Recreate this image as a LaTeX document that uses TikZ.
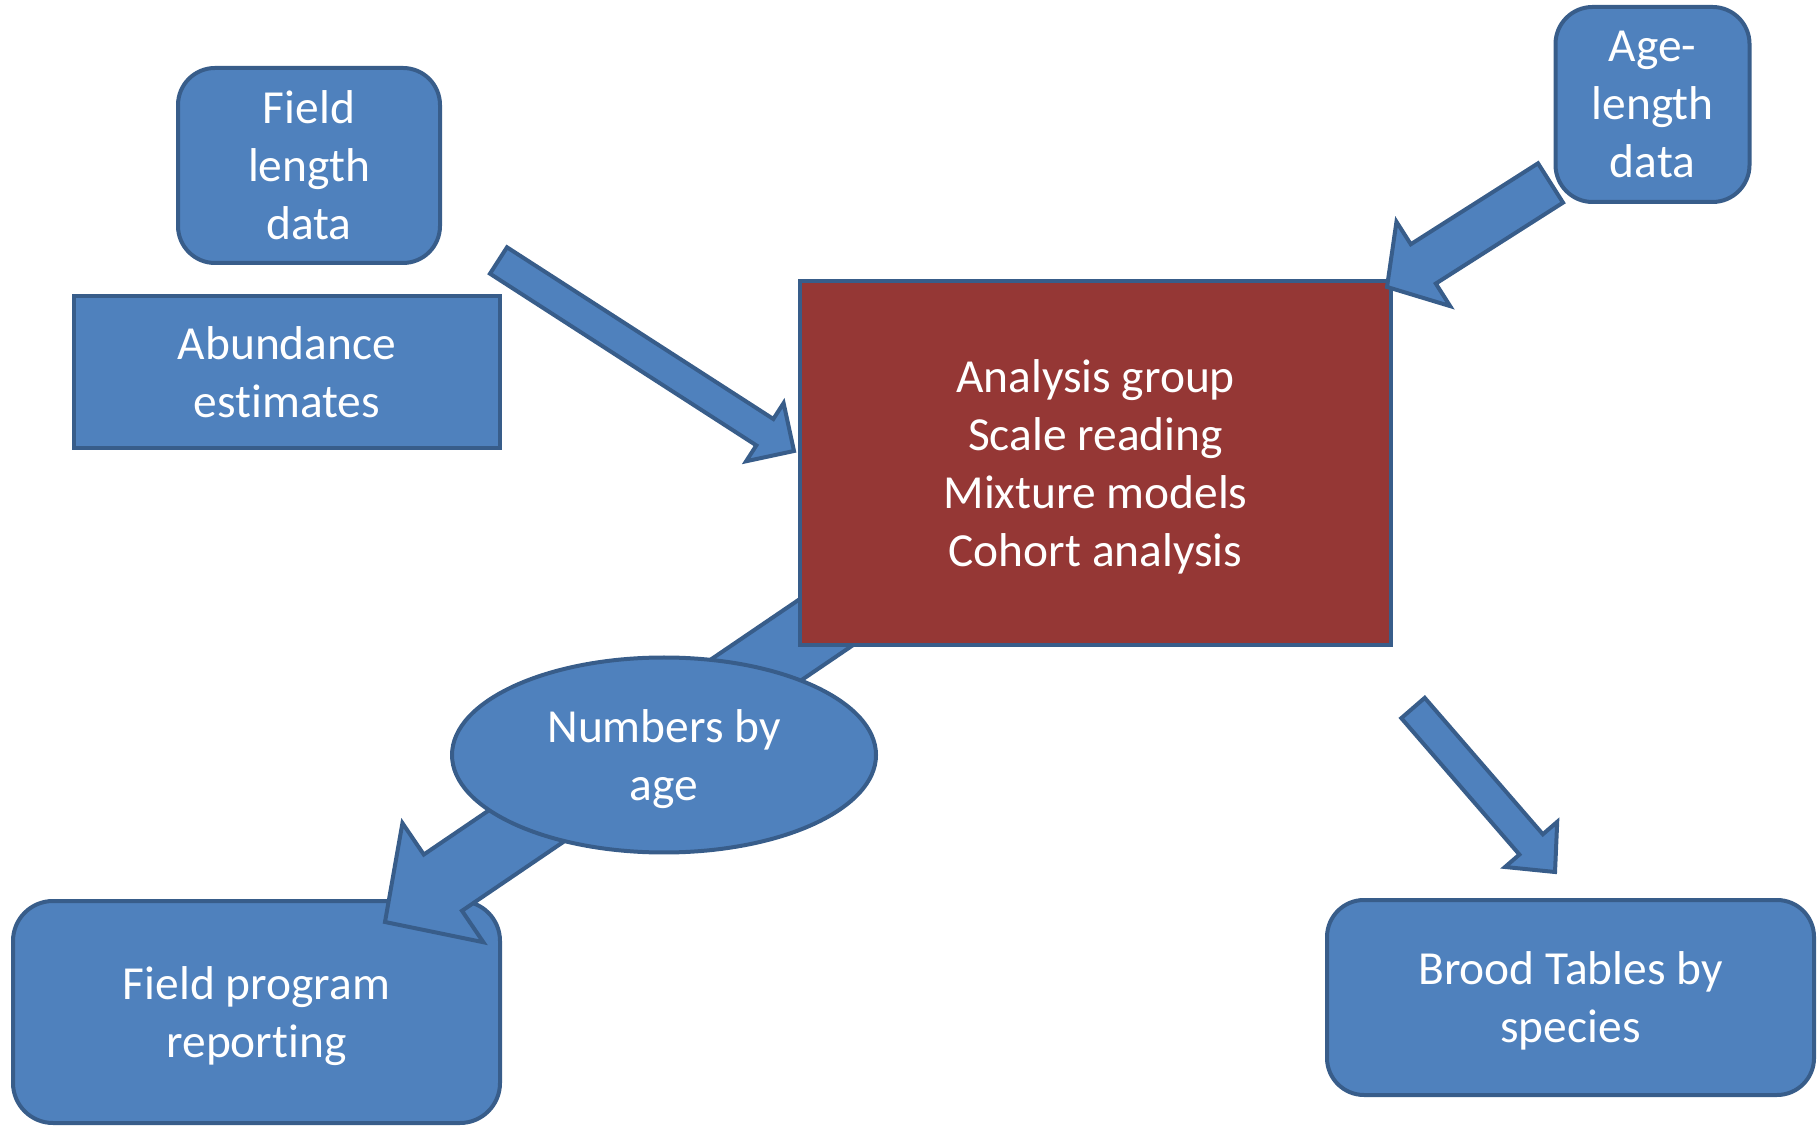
\documentclass[tikz,border=0pt]{standalone}
\usepackage{fontspec}
\setmainfont{Carlito}[Ligatures=NoCommon]
\usepackage{xcolor}
\usepackage{tikz}
\usetikzlibrary{shapes.geometric}
\usetikzlibrary{calc}

\definecolor{boxblue}{HTML}{4F81BD}
\definecolor{edgeblue}{HTML}{385D8A}
\definecolor{boxred}{HTML}{953735}

% tail, tip, half shaft width, half head width, head length
\newcommand{\blockarrow}[5]{%
\coordinate (neck) at ($(#2)!#5!(#1)$);
\draw [blockarr] ($(#1)!#3!90:(#2)$) -- ($(neck)!#3!90:(#2)$) -- ($(neck)!#4!90:(#2)$) -- (#2)
  -- ($(neck)!#4!-90:(#2)$) -- ($(neck)!#3!-90:(#2)$) -- ($(#1)!#3!-90:(#2)$) -- cycle;}

\begin{document}
\begin{tikzpicture}
[x=0.1mm,y=-0.1mm,
every node/.style={font=\fontsize{13.5}{16.5}\selectfont,text=white,align=center,inner sep=0pt,text depth=0pt},
sqbox/.style={rectangle,draw=edgeblue,fill=boxblue,line width=0.4mm},
rndbox/.style={sqbox,rounded corners=3.7mm},
redbox/.style={rectangle,draw=edgeblue,fill=boxred,line width=0.4mm},
ovalbox/.style={ellipse,draw=edgeblue,fill=boxblue,line width=0.4mm},
blockarr/.style={draw=edgeblue,fill=boxblue,line width=0.4mm,line join=miter}]

\useasboundingbox (0,0) rectangle (1818,1126);

\node at (309,165.5)   [rndbox,minimum width=26.2mm,minimum height=19.5mm] (fieldlen) {Field\\length\\data};
\node at (287,372)     [sqbox,minimum width=42.6mm,minimum height=15.2mm]  (abund)    {Abundance\\estimates};
\node at (1652.5,104.5)[rndbox,minimum width=19.4mm,minimum height=19.5mm] (agelen)   {Age-\\length\\data};
\node at (256.5,1012)  [rndbox,rounded corners=4mm,minimum width=48.7mm,minimum height=22.2mm] (report) {Field program\\reporting};
\node at (1570.5,997.5)[rndbox,minimum width=48.7mm,minimum height=19.5mm] (brood)    {Brood Tables by\\species};

\coordinate (lentail)   at (498.5,260.5);
\coordinate (lentip)    at (794,451);
\coordinate (agetail)   at (1550.5,183);
\coordinate (agetip)    at (1387,287);
\coordinate (reptail)   at (881,585);
\coordinate (reptip)    at (385,922);
\coordinate (broodtail) at (1413,708);
\coordinate (broodtip)  at (1555,872);

\blockarrow{lentail}{lentip}{1.57mm}{3.46mm}{3.47mm}
\blockarrow{reptail}{reptip}{3.4mm}{7.2mm}{7.0mm}
\blockarrow{broodtail}{broodtip}{1.55mm}{3.45mm}{3.65mm}

\node at (1095.5,463) [redbox,minimum width=59.1mm,minimum height=36.4mm] (analysis)
  {Analysis group\\Scale reading\\Mixture models\\Cohort analysis};
\node at (664,755) [ovalbox,minimum width=42.4mm,minimum height=19.5mm] (numage) {Numbers by\\age};

\blockarrow{agetail}{agetip}{2.33mm}{5.0mm}{4.3mm}
\end{tikzpicture}
\end{document}
